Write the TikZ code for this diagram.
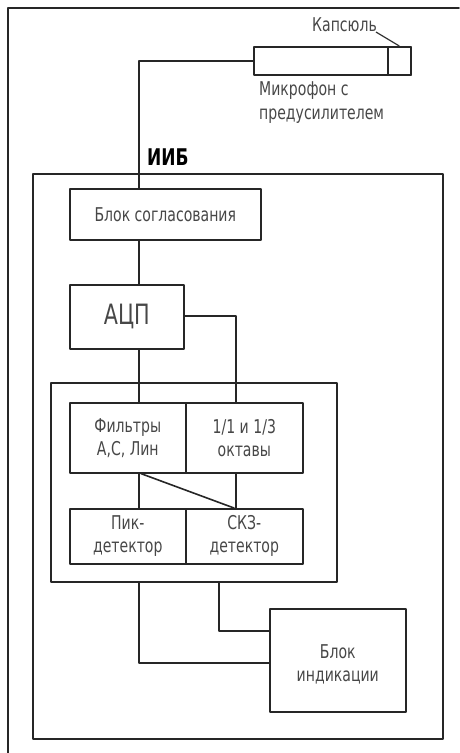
\documentclass[tikz,border=0pt]{standalone}
\usepackage{fontspec}
\setmainfont[FakeStretch=0.74]{DejaVu Sans}
\begin{document}
\begin{tikzpicture}[x=1pt,y=-1pt,
  ln/.style={line width=1.6pt, draw=black!85, line join=round, line cap=round},
  bx/.style={ln, draw, rectangle, inner sep=0pt, anchor=north west},
  lbl/.style={text=black!72, font=\fontsize{19}{23}\selectfont, align=center, inner sep=0pt}]
\useasboundingbox (0,0) rectangle (459,753);
% outer frame
\coordinate (fa) at (8,753);
\coordinate (fb) at (8,8);
\coordinate (fc) at (459,8);
\draw[ln] (fa) -- (fb) -- (fc);
% microphone
\node[bx, minimum width=157pt, minimum height=28pt] (mic) at (253,46) {};
\node[bx, minimum width=23pt, minimum height=28pt] (cap) at (387,46) {};
\node[lbl, anchor=base west] (caplbl) at (312,31) {Капсюль};
\coordinate (capend) at (376,32);
\draw[line width=1.2pt, black!80] (capend) -- (cap.north);
\node[lbl, anchor=north west, align=left, font=\fontsize{19}{24}\selectfont] (miclbl) at (259,81) {Микрофон с\\предусилителем};
% IIB
\node[bx, minimum width=410pt, minimum height=565pt] (iib) at (32,173) {};
\node[anchor=base west, inner sep=0pt, font=\fontsize{23}{26}\selectfont\bfseries] (iiblbl) at (147,165) {ИИБ};
% blocks
\node[bx, minimum width=191pt, minimum height=51pt] (sogl) at (69,188) {};
\node[lbl] at (sogl.center) {Блок согласования};
\node[bx, minimum width=114pt, minimum height=64pt] (adc) at (69,284) {};
\node[lbl, font=\fontsize{28}{30}\selectfont] at (adc.center) {АЦП};
\node[bx, minimum width=286pt, minimum height=199pt] (inner) at (50,382) {};
\node[bx, minimum width=116pt, minimum height=70pt] (filt) at (69,402) {};
\node[bx, minimum width=117pt, minimum height=70pt] (oct) at (185,402) {};
\node[lbl] at (filt.center) {Фильтры\\А,С, Лин};
\node[lbl] at (oct.center) {1/1 и 1/3\\октавы};
\node[bx, minimum width=116pt, minimum height=55pt] (peak) at (69,508) {};
\node[bx, minimum width=117pt, minimum height=55pt] (rms) at (185,508) {};
\node[lbl] at (peak.center) {Пик-\\детектор};
\node[lbl] at (rms.center) {СКЗ-\\детектор};
\node[bx, minimum width=136pt, minimum height=103pt] (ind) at (269,608) {};
\node[lbl] at ([yshift=-4pt]ind.center) {Блок\\индикации};
% connectors
\draw[ln] (mic.west) -| (sogl.north -| 139,0);
\draw[ln] (sogl.south -| 139,0) -- (adc.north -| 139,0);
\draw[ln] (adc.south -| 139,0) -- (filt.north -| 139,0);
\draw[ln] (adc.east |- 0,316) -| (oct.north -| 236,0);
\draw[ln] (filt.south -| 139,0) -- (peak.north -| 139,0);
\draw[ln] (oct.south -| 236,0) -- (rms.north -| 236,0);
\draw[ln] (filt.south -| 141,0) -- (rms.north -| 234,0);
\draw[ln] (inner.south -| 139,0) |- (ind.west |- 0,663);
\draw[ln] (inner.south -| 219,0) |- (ind.west |- 0,631);
\end{tikzpicture}
\end{document}
